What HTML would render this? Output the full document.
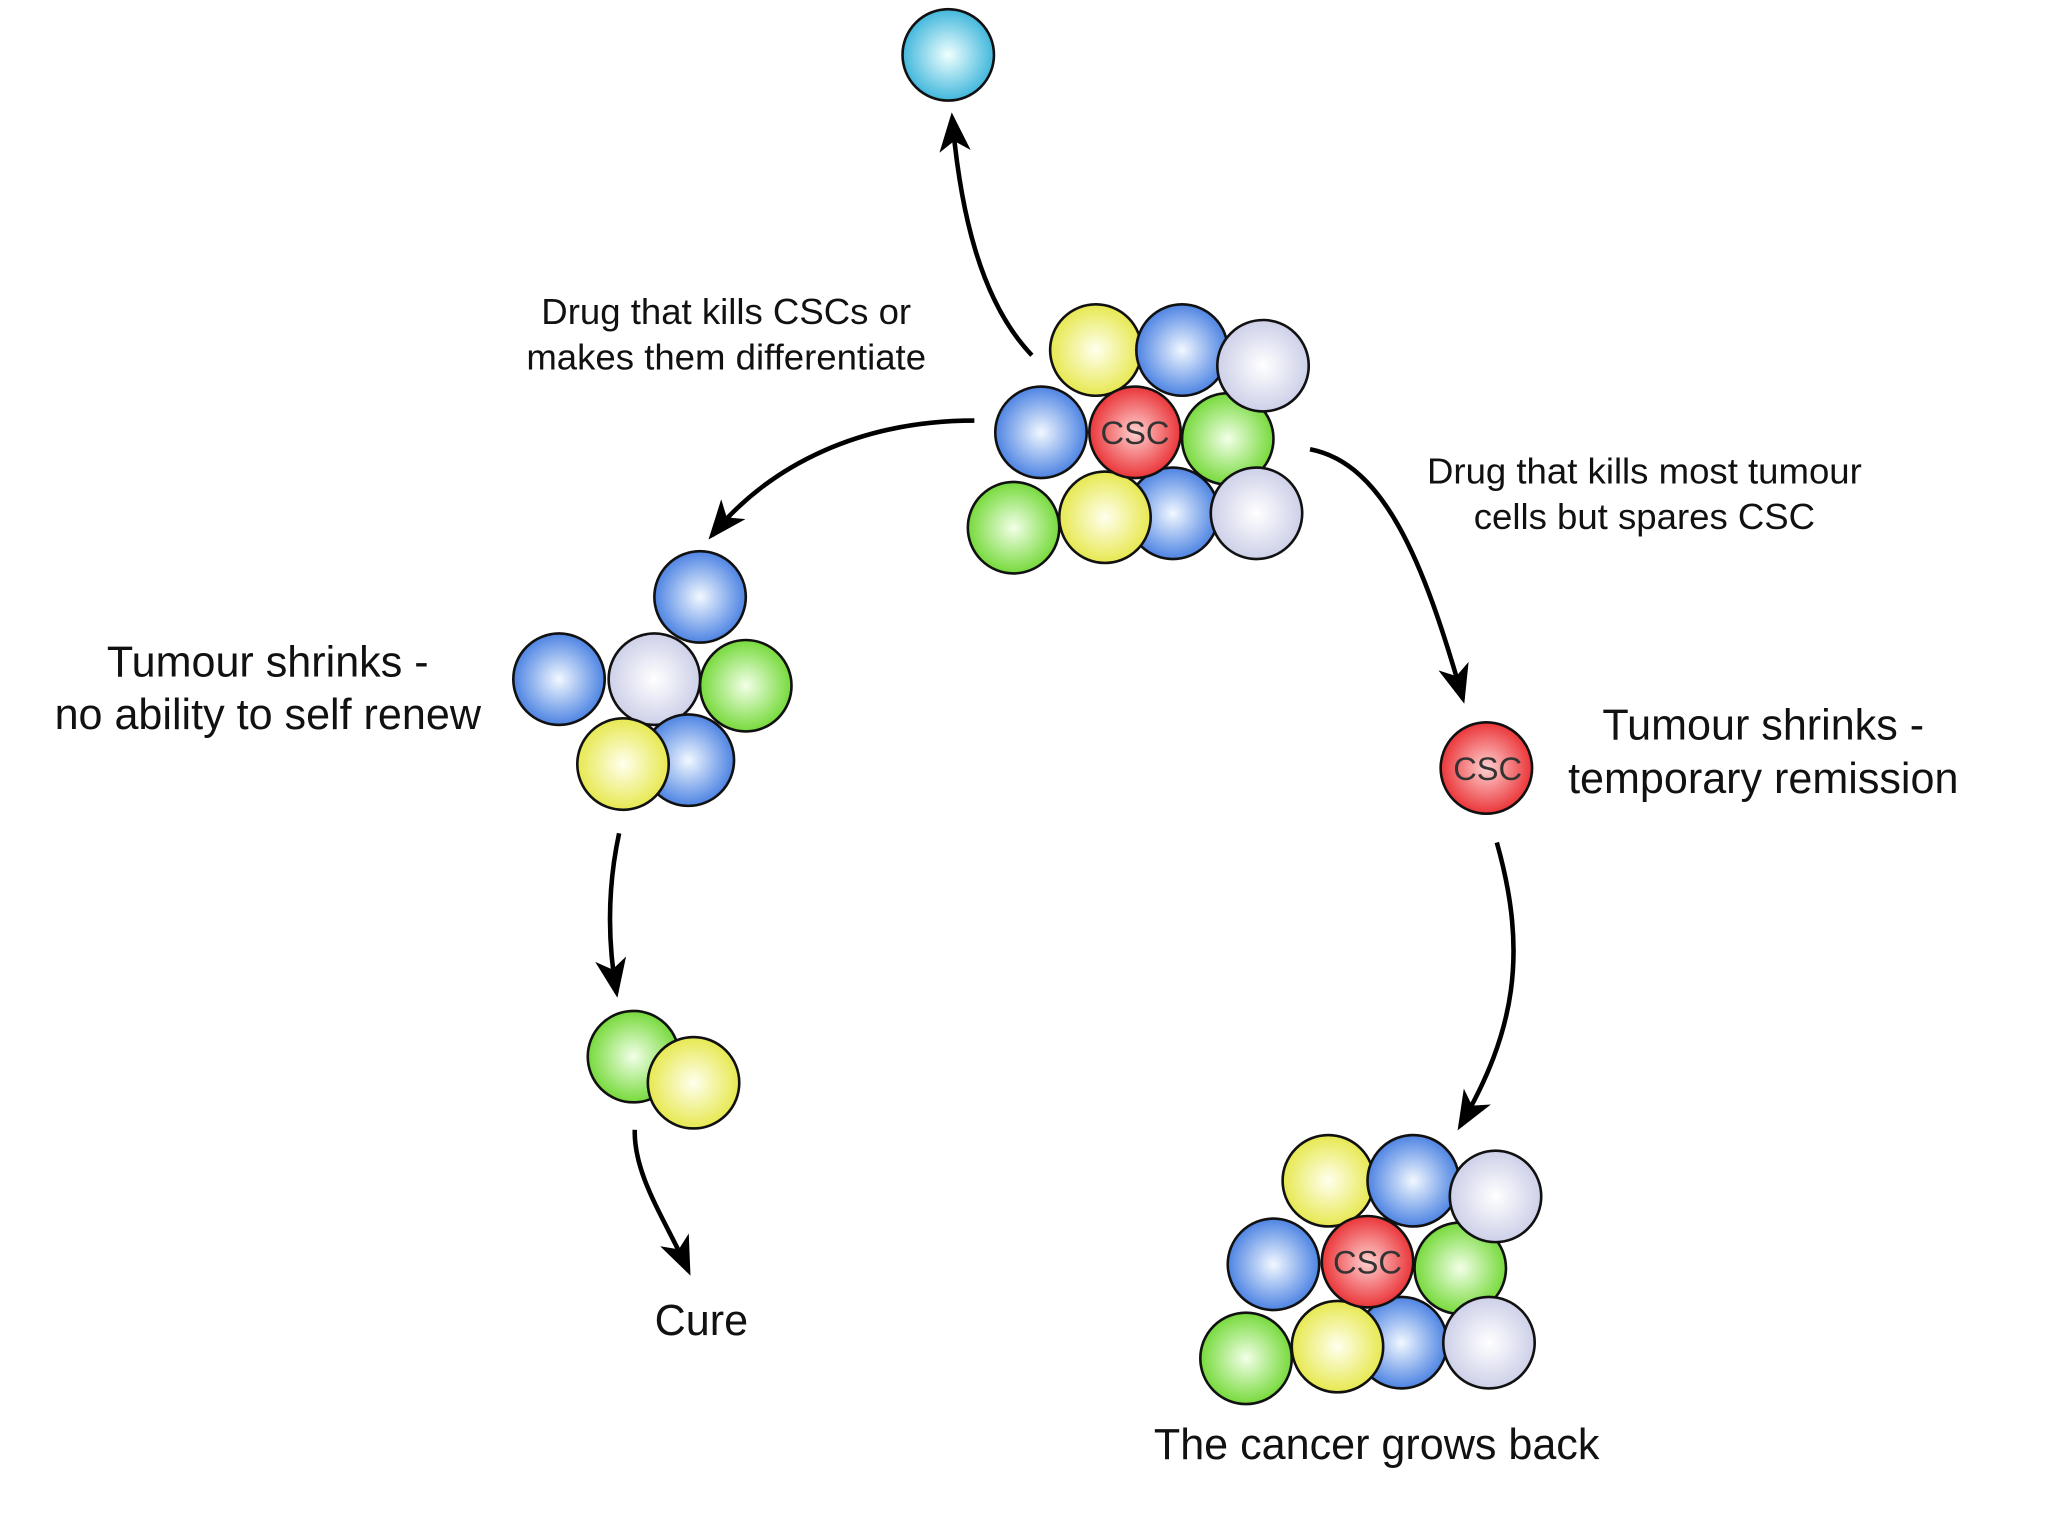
<!DOCTYPE html>
<html><head><style>html,body{margin:0;padding:0;background:#fff}svg{display:block}</style></head><body>
<svg width="2048" height="1536" viewBox="0 0 1568 1176" xmlns="http://www.w3.org/2000/svg" font-family="Liberation Sans, sans-serif">
<defs>
<radialGradient id="b" cx="50%" cy="50%" r="55%"><stop offset="0" stop-color="#f2f8ff"/><stop offset="1" stop-color="#3d78e0"/></radialGradient>
<radialGradient id="y" cx="50%" cy="50%" r="55%"><stop offset="0" stop-color="#ffffee"/><stop offset="1" stop-color="#e4e640"/></radialGradient>
<radialGradient id="g" cx="50%" cy="50%" r="55%"><stop offset="0" stop-color="#f2ffe8"/><stop offset="1" stop-color="#6ad62a"/></radialGradient>
<radialGradient id="w" cx="50%" cy="50%" r="55%"><stop offset="0" stop-color="#ffffff"/><stop offset="1" stop-color="#c8cbe6"/></radialGradient>
<radialGradient id="r" cx="50%" cy="50%" r="55%"><stop offset="0" stop-color="#ffd0d0"/><stop offset="1" stop-color="#e8262a"/></radialGradient>
<radialGradient id="c" cx="50%" cy="50%" r="55%"><stop offset="0" stop-color="#f0ffff"/><stop offset="1" stop-color="#30b0d8"/></radialGradient>
<marker id="ah" viewBox="0 0 30 30" refX="26" refY="15" markerWidth="30" markerHeight="30" markerUnits="userSpaceOnUse" orient="auto">
<path d="M0,3 L30,15 L0,27 L8,15 Z" fill="#000"/></marker>
</defs>
<g stroke="#111" stroke-width="2">
<circle cx="726" cy="42" r="35" fill="url(#c)"/>
<circle cx="839" cy="268" r="35" fill="url(#y)"/>
<circle cx="905" cy="268" r="35" fill="url(#b)"/>
<circle cx="940" cy="336" r="35" fill="url(#g)"/>
<circle cx="967" cy="280" r="35" fill="url(#w)"/>
<circle cx="797" cy="331" r="35" fill="url(#b)"/>
<circle cx="898" cy="393" r="35" fill="url(#b)"/>
<circle cx="776" cy="404" r="35" fill="url(#g)"/>
<circle cx="846" cy="396" r="35" fill="url(#y)"/>
<circle cx="962" cy="393" r="35" fill="url(#w)"/>
<circle cx="869" cy="331" r="35" fill="url(#r)"/>
<circle cx="536" cy="457" r="35" fill="url(#b)"/>
<circle cx="428" cy="520" r="35" fill="url(#b)"/>
<circle cx="501" cy="520" r="35" fill="url(#w)"/>
<circle cx="571" cy="525" r="35" fill="url(#g)"/>
<circle cx="527" cy="582" r="35" fill="url(#b)"/>
<circle cx="477" cy="585" r="35" fill="url(#y)"/>
<circle cx="485" cy="809" r="35" fill="url(#g)"/>
<circle cx="531" cy="829" r="35" fill="url(#y)"/>
<circle cx="1138" cy="588" r="35" fill="url(#r)"/>
<circle cx="1017" cy="904" r="35" fill="url(#y)"/>
<circle cx="1082" cy="904" r="35" fill="url(#b)"/>
<circle cx="1118" cy="971" r="35" fill="url(#g)"/>
<circle cx="1145" cy="916" r="35" fill="url(#w)"/>
<circle cx="975" cy="968" r="35" fill="url(#b)"/>
<circle cx="1073" cy="1028" r="35" fill="url(#b)"/>
<circle cx="954" cy="1040" r="35" fill="url(#g)"/>
<circle cx="1024" cy="1031" r="35" fill="url(#y)"/>
<circle cx="1140" cy="1028" r="35" fill="url(#w)"/>
<circle cx="1047" cy="966" r="35" fill="url(#r)"/>
</g>
<g font-size="25" fill="#333" text-anchor="middle">
<text x="869" y="340">CSC</text>
<text x="1139" y="597">CSC</text>
<text x="1047" y="975">CSC</text>
</g>
<g fill="none" stroke="#000" stroke-width="3.5" marker-end="url(#ah)">
<path d="M790,272 C750,230 735,160 729,90"/>
<path d="M746,322 C660,322 590,355 545,410"/>
<path d="M1003,344 C1060,355 1090,430 1120,535"/>
<path d="M474,638 C465,680 465,720 472,760"/>
<path d="M486,865 C485,900 510,935 527,973"/>
<path d="M1146,645 C1170,730 1160,790 1118,862"/>
</g>
<g fill="#111" text-anchor="middle">
<text x="556" y="248" font-size="28">Drug that kills CSCs or</text>
<text x="556" y="283" font-size="28">makes them differentiate</text>
<text x="1259" y="370" font-size="28">Drug that kills most tumour</text>
<text x="1259" y="405" font-size="28">cells but spares CSC</text>
<text x="205" y="518" font-size="33">Tumour shrinks -</text>
<text x="205" y="558" font-size="33">no ability to self renew</text>
<text x="1350" y="566" font-size="33">Tumour shrinks -</text>
<text x="1350" y="607" font-size="33">temporary remission</text>
<text x="537" y="1022" font-size="33">Cure</text>
<text x="1054" y="1117" font-size="33">The cancer grows back</text>
</g>
</svg>
</body></html>
